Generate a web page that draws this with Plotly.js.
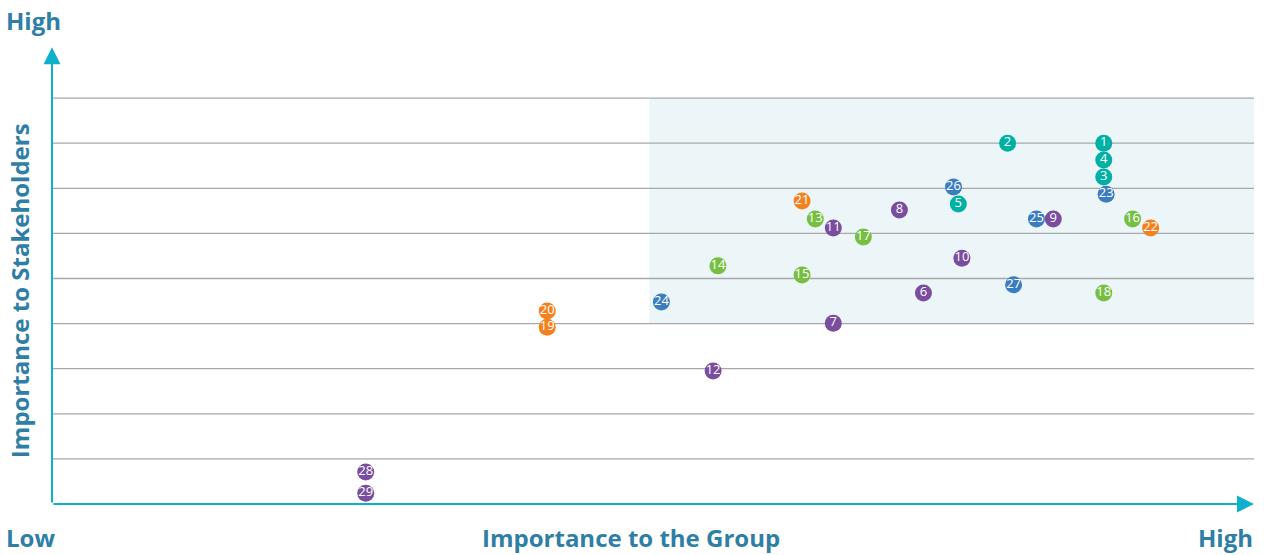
<!DOCTYPE html>
<html>
<head>
<meta charset="utf-8">
<script src="https://cdn.plot.ly/plotly-3.0.1.min.js"></script>
<style>
  html, body { margin: 0; padding: 0; background: #ffffff; }
  #chart { width: 1264px; height: 555px; }
</style>
</head>
<body>
<div id="chart"></div>
<script>
// Materiality matrix: each numbered issue placed by its importance
// to the Group (x) and to stakeholders (y), on a 0–10 scale.
const issueIds = [
  1, 2, 3, 4, 5,
  6, 7, 8, 9, 10, 11, 12,
  13, 14, 15, 16, 17, 18,
  19, 20, 21, 22,
  23, 24, 25, 26, 27,
  28, 29
];
const groupImportance = [
  8.75, 7.95, 8.75, 8.75, 7.54,
  7.25, 6.50, 7.05, 8.33, 7.57, 6.50, 5.50,
  6.35, 5.54, 6.24, 8.99, 6.75, 8.75,
  4.12, 4.12, 6.24, 9.14,
  8.77, 5.07, 8.19, 7.50, 8.00,
  2.61, 2.61
];
const stakeholderImportance = [
  8.00, 8.00, 7.25, 7.63, 6.65,
  4.68, 4.01, 6.52, 6.32, 5.45, 6.12, 2.95,
  6.32, 5.28, 5.08, 6.32, 5.92, 4.68,
  3.92, 4.28, 6.72, 6.12,
  6.87, 4.48, 6.32, 7.03, 4.86,
  0.71, 0.24
];
const issueCategory = [
  'teal', 'teal', 'teal', 'teal', 'teal',
  'purple', 'purple', 'purple', 'purple', 'purple', 'purple', 'purple',
  'green', 'green', 'green', 'green', 'green', 'green',
  'orange', 'orange', 'orange', 'orange',
  'blue', 'blue', 'blue', 'blue', 'blue',
  'purple', 'purple'
];
const categoryColors = {
  teal: '#00b0a4',
  purple: '#7a4d9e',
  green: '#77bf43',
  orange: '#f4811f',
  blue: '#3b7dc0'
};
const gridLevels = [1, 2, 3, 4, 5, 6, 7, 8, 9];
const axisLabels = { low: 'Low', high: 'High', x: 'Importance to the Group', y: 'Importance to Stakeholders' };

const titleColor = '#2f7ea5';
const axisColor = '#0fb0cc';
const titleFont = { family: 'Open Sans, sans-serif', size: 24, color: titleColor, weight: 700 };

const trace = {
  type: 'scatter',
  mode: 'markers+text',
  x: groupImportance,
  y: stakeholderImportance,
  text: issueIds.map(String),
  textposition: 'middle center',
  textfont: { family: 'Open Sans, sans-serif', size: 13, color: '#ffffff' },
  marker: {
    size: 17,
    color: issueCategory.map(c => categoryColors[c]),
    line: { width: 0 }
  },
  cliponaxis: false,
  hoverinfo: 'skip'
};

const shapes = [
  // shaded high-priority zone
  {
    type: 'rect', xref: 'x', yref: 'y', layer: 'below',
    x0: 4.97, x1: 10, y0: 4, y1: 9,
    fillcolor: '#ecf6f9', line: { width: 0 }
  }
].concat(gridLevels.map(v => ({
  type: 'line', xref: 'x', yref: 'y', layer: 'below',
  x0: 0, x1: 10, y0: v, y1: v,
  line: { color: '#a8a8a8', width: 1.3 }
})));

const annotations = [
  // axis arrows
  {
    x: 10, y: 0, ax: 0, ay: 0, xref: 'x', yref: 'y', axref: 'x', ayref: 'y',
    showarrow: true, arrowhead: 2, arrowsize: 1.7, arrowwidth: 2, arrowcolor: axisColor, text: ''
  },
  {
    x: 0, y: 10.13, ax: 0, ay: 0, xref: 'x', yref: 'y', axref: 'x', ayref: 'y',
    showarrow: true, arrowhead: 2, arrowsize: 1.7, arrowwidth: 2, arrowcolor: axisColor, text: ''
  },
  // end labels
  {
    text: axisLabels.high, xref: 'paper', yref: 'paper', x: -0.037, y: 1.0,
    xanchor: 'left', yanchor: 'middle', xshift: -4, yshift: 33, showarrow: false, font: titleFont
  },
  {
    text: axisLabels.low, xref: 'paper', yref: 'paper', x: -0.037, y: 0,
    xanchor: 'left', yanchor: 'middle', xshift: -4, yshift: -33, showarrow: false, font: titleFont
  },
  {
    text: axisLabels.high, xref: 'paper', yref: 'paper', x: 1.0, y: 0,
    xanchor: 'right', yanchor: 'middle', xshift: 1, yshift: -33, showarrow: false, font: titleFont
  },
  // axis titles
  {
    text: axisLabels.x, xref: 'paper', yref: 'paper', x: 0.4817, y: 0,
    xanchor: 'center', yanchor: 'middle', yshift: -33, showarrow: false, font: titleFont
  },
  {
    text: axisLabels.y, xref: 'paper', yref: 'paper', x: 0, y: 0.472,
    xanchor: 'center', yanchor: 'middle', xshift: -33, textangle: -90, showarrow: false, font: titleFont
  }
];

const layout = {
  width: 1264,
  height: 555,
  margin: { l: 52, r: 10, t: 53, b: 51 },
  paper_bgcolor: '#ffffff',
  plot_bgcolor: 'rgba(0,0,0,0)',
  showlegend: false,
  xaxis: {
    range: [0, 10], showgrid: false, zeroline: false, showticklabels: false, ticks: '',
    showline: false, fixedrange: true
  },
  yaxis: {
    range: [0, 10], showgrid: false, zeroline: false, showticklabels: false, ticks: '',
    showline: false, fixedrange: true
  },
  shapes: shapes,
  annotations: annotations
};

Plotly.newPlot('chart', [trace], layout, { displayModeBar: false, staticPlot: true });
</script>
</body>
</html>
